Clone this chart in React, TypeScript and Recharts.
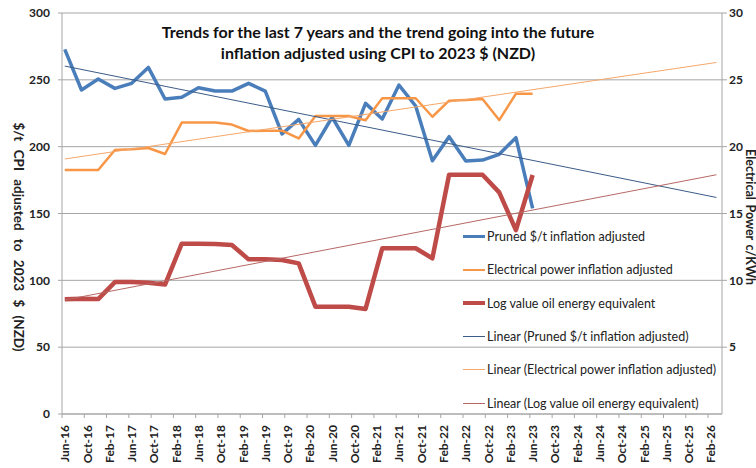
import React from 'react';
import { LineChart, Line, XAxis, YAxis, CartesianGrid, Legend } from 'recharts';

// quarterly observations, month offset from Jun-16
const quarterMonths = [0, 3, 6, 9, 12, 15, 18, 21, 24, 27, 30, 33, 36, 39, 42, 45, 48, 51, 54, 57, 60, 63, 66, 69, 72, 75, 78, 81, 84];
// $/t, inflation adjusted (left axis)
const prunedPrice = [272.8, 242.4, 250.6, 243.6, 247.4, 259.3, 235.7, 236.9, 244.1, 241.6, 241.6, 247.4, 241.6, 209.5, 220.4, 201, 222, 201, 232.4, 220.7, 246.1, 230.4, 189.5, 207.5, 189.3, 190, 194.3, 206.7, 153.9];
// c/kWh (right axis)
const electricalPower = [18.25, 18.25, 18.25, 19.75, 19.8, 19.9, 19.45, 21.8, 21.8, 21.8, 21.65, 21.17, 21.2, 21.2, 20.62, 22.29, 22.29, 22.29, 21.97, 23.62, 23.62, 23.62, 22.24, 23.44, 23.5, 23.57, 21.99, 23.96, 23.96];
const oilEnergy = [8.58, 8.63, 8.6, 9.87, 9.87, 9.82, 9.68, 12.74, 12.74, 12.72, 12.64, 11.57, 11.57, 11.52, 11.27, 8.03, 8.03, 8.03, 7.86, 12.4, 12.4, 12.4, 11.65, 17.9, 17.9, 17.9, 16.58, 13.76, 17.88];

// linear trend end points
const trendMonths = [0, 117];
const prunedTrend = [260.3, 162];
const powerTrend = [19.08, 26.3];
const oilTrend = [8.53, 17.9];

const tickLabels = ['Jun-16', 'Oct-16', 'Feb-17', 'Jun-17', 'Oct-17', 'Feb-18', 'Jun-18', 'Oct-18', 'Feb-19', 'Jun-19', 'Oct-19', 'Feb-20', 'Jun-20', 'Oct-20', 'Feb-21', 'Jun-21', 'Oct-21', 'Feb-22', 'Jun-22', 'Oct-22', 'Feb-23', 'Jun-23', 'Oct-23', 'Feb-24', 'Jun-24', 'Oct-24', 'Feb-25', 'Jun-25', 'Oct-25', 'Feb-26'];
const leftTicks = [0, 50, 100, 150, 200, 250, 300];
const rightTicks = [5, 10, 15, 20, 25, 30];

const seriesNames = [
  'Pruned $/t inflation adjusted',
  'Electrical power inflation adjusted',
  'Log value oil energy equivalent',
  'Linear (Pruned $/t inflation adjusted)',
  'Linear (Electrical power inflation adjusted)',
  'Linear (Log value oil energy equivalent)',
];
const seriesColors = ['#4A7EBB', '#F79646', '#BE4B48', '#3B5C88', '#F5A76A', '#B66866'];
const seriesWidths = [3.5, 2.5, 4.5, 1, 1, 1];

const rows: any[] = quarterMonths.map((m, i) => ({ m, pruned: prunedPrice[i], power: electricalPower[i], oil: oilEnergy[i] }));
trendMonths.forEach((m, j) => {
  let r = rows.find((x) => x.m === m);
  if (!r) {
    r = { m };
    rows.push(r);
  }
  r.prunedT = prunedTrend[j];
  r.powerT = powerTrend[j];
  r.oilT = oilTrend[j];
});

const xTicks = tickLabels.map((_, k) => k * 4 - 0.5);
const FONT = 'Lato, "Open Sans", sans-serif';

const XTick = (props: any) => {
  const { x, y, payload } = props;
  const idx = Math.round((payload.value + 0.5) / 4);
  return (
    <g transform={`translate(${x + 2.8},${y})`}>
      <text transform="rotate(-90)" textAnchor="end" dy={4.5} fill="#222" fontSize={12} fontWeight={700} fontFamily={FONT}>
        {tickLabels[idx]}
      </text>
    </g>
  );
};

const LeftTitle = () => (
  <text x={19} y={237} transform="rotate(90 19 237)" textAnchor="middle" dominantBaseline="central" fill="#222" fontSize={13.5} fontWeight={700} fontFamily={FONT} wordSpacing={5}>
    $/t  CPI  adjusted to 2023 $ (NZD)
  </text>
);
const RightTitle = () => (
  <text x={750} y={217} transform="rotate(90 750 217)" textAnchor="middle" dominantBaseline="central" fill="#222" fontSize={12.5} fontWeight={700} fontFamily={FONT} wordSpacing={1.5}>
    Electrical Power  c/KWh
  </text>
);

const renderLegend = () => (
  <div style={{ fontFamily: FONT, fontSize: 12.5, color: '#222' }}>
    {seriesNames.map((n, i) => (
      <div key={n} style={{ display: 'flex', alignItems: 'center', height: 33.3 }}>
        <div style={{ width: 22, height: seriesWidths[i], background: seriesColors[i], marginRight: 2 }} />
        <span>{n}</span>
      </div>
    ))}
  </div>
);

export default function App() {
  return (
    <div style={{ position: 'absolute', left: 0, top: 0, width: 756, height: 468, background: '#fff' }}>
      <LineChart width={756} height={468} data={rows} margin={{ top: 13, right: 4, bottom: 4, left: 32 }}>
        <CartesianGrid vertical={false} stroke="#A6A6A6" yAxisId="left" />
        <XAxis
          dataKey="m"
          type="number"
          domain={[-0.5, 118]}
          ticks={xTicks}
          interval={0}
          height={50}
          tick={<XTick />}
          tickSize={4}
          tickMargin={7}
          stroke="#A6A6A6"
          allowDataOverflow
        />
        <YAxis
          yAxisId="left"
          domain={[0, 300]}
          ticks={leftTicks}
          width={30}
          tickSize={4}
          tickMargin={8}
          stroke="#A6A6A6"
          tick={{ fill: '#222', fontSize: 12, fontWeight: 700, fontFamily: FONT }}
          label={<LeftTitle />}
        />
        <YAxis
          yAxisId="right"
          orientation="right"
          domain={[0, 30]}
          ticks={rightTicks}
          width={30}
          tickSize={5}
          tickMargin={2}
          stroke="#A6A6A6"
          tick={{ fill: '#222', fontSize: 12, fontWeight: 700, fontFamily: FONT }}
          label={<RightTitle />}
        />
        <Line yAxisId="left" dataKey="pruned" name={seriesNames[0]} stroke={seriesColors[0]} strokeWidth={seriesWidths[0]} dot={false} isAnimationActive={false} strokeLinejoin="round" />
        <Line yAxisId="right" dataKey="power" name={seriesNames[1]} stroke={seriesColors[1]} strokeWidth={seriesWidths[1]} dot={false} isAnimationActive={false} strokeLinejoin="round" />
        <Line yAxisId="right" dataKey="oil" name={seriesNames[2]} stroke={seriesColors[2]} strokeWidth={seriesWidths[2]} dot={false} isAnimationActive={false} strokeLinejoin="round" />
        <Line yAxisId="left" dataKey="prunedT" name={seriesNames[3]} stroke={seriesColors[3]} strokeWidth={1} dot={false} connectNulls isAnimationActive={false} />
        <Line yAxisId="right" dataKey="powerT" name={seriesNames[4]} stroke={seriesColors[4]} strokeWidth={1} dot={false} connectNulls isAnimationActive={false} />
        <Line yAxisId="right" dataKey="oilT" name={seriesNames[5]} stroke={seriesColors[5]} strokeWidth={1} dot={false} connectNulls isAnimationActive={false} />
        <Legend layout="vertical" align="center" verticalAlign="middle" content={renderLegend} wrapperStyle={{ left: 463, top: 220, width: 285 }} />
      </LineChart>
      <div style={{ position: 'absolute', left: 28, width: 700, top: 21, textAlign: 'center', fontFamily: FONT, fontWeight: 700, fontSize: 16, lineHeight: '21px', color: '#111' }}>
        Trends for the last 7 years and the trend going into the future
        <br />
        inflation adjusted using CPI to 2023 $ (NZD)
      </div>
    </div>
  );
}
